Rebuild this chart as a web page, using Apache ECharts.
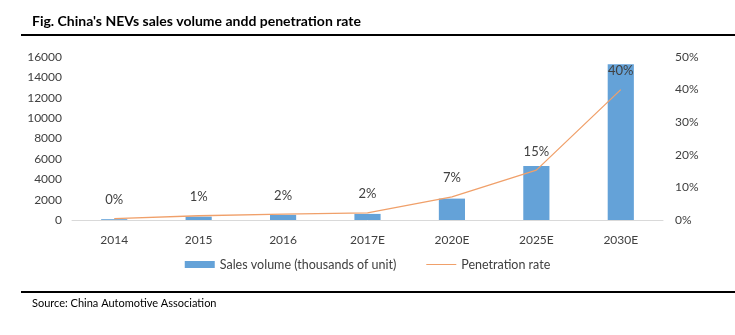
<!DOCTYPE html>
<html><head><meta charset="utf-8">
<script src="https://cdn.jsdelivr.net/npm/echarts@6/dist/echarts.min.js"></script>
<style>html,body{margin:0;padding:0;background:#fff}#c{width:735px;height:335px}</style>
</head><body><div id="c"></div>
<script>
var categories = ['2014','2015','2016','2017E','2020E','2025E','2030E'];
var salesVolume = [80, 331, 507, 600, 2100, 5300, 15300];
var penetration = [0.004, 0.013, 0.018, 0.022, 0.071, 0.153, 0.40];
var leftTicks = [0, 16000, 2000];
var rightTicks = [0, 0.5, 0.1];
var FONT = 'Lato';
var chart = echarts.init(document.getElementById('c'));
chart.setOption({
  backgroundColor: '#fff',
  animation: false,
  textStyle: {fontFamily: FONT},
  graphic: [
    {type:'text', left:32, top:14, style:{text:"Fig. China's NEVs sales volume andd penetration rate", font:'bold 14px '+FONT, fill:'#000'}},
    {type:'rect', shape:{x:21,y:34,width:714,height:2}, style:{fill:'#000'}},
    {type:'rect', shape:{x:21,y:291,width:714,height:2}, style:{fill:'#000'}},
    {type:'text', left:32, top:298, style:{text:'Source: China Automotive Association', font:'11px '+FONT, fill:'#000'}}
  ],
  grid: {left:72, right:72, top:57, bottom:115, containLabel:false},
  legend: {
    bottom: 59, left: 'center', itemGap: 30, itemWidth: 30, itemHeight: 7,
    textStyle: {fontSize: 12.5, color:'#404040', fontFamily: FONT},
    data: [
      {name:'Sales volume (thousands of unit)', icon:'rect'},
      {name:'Penetration rate', icon:'path://M0,0 L30,0 L30,1 L0,1 Z', itemStyle:{color:'#f0a06a'}}
    ]
  },
  xAxis: {
    type:'category', data: categories,
    axisLine:{lineStyle:{color:'#d9d9d9'}},
    axisTick:{show:false},
    axisLabel:{color:'#404040', fontSize:12, margin:14}
  },
  yAxis: [
    {type:'value', min:leftTicks[0], max:leftTicks[1], interval:leftTicks[2],
     splitLine:{show:false}, axisLine:{show:false}, axisTick:{show:false},
     axisLabel:{color:'#404040', fontSize:12, margin:10, formatter:function(v){return String(v);}}},
    {type:'value', min:rightTicks[0], max:rightTicks[1], interval:rightTicks[2],
     splitLine:{show:false}, axisLine:{show:false}, axisTick:{show:false},
     axisLabel:{color:'#404040', fontSize:12, margin:12, formatter:function(v){return Math.round(v*100)+'%';}}}
  ],
  series: [
    {name:'Sales volume (thousands of unit)', type:'bar', data: salesVolume, barWidth:'31%',
     itemStyle:{color:'#64a2d8'}},
    {name:'Penetration rate', type:'line', yAxisIndex:1, data: penetration,
     showSymbol:true, symbol:'circle', symbolSize:0.1, lineStyle:{color:'#f0a06a', width:1.3}, itemStyle:{color:'#f0a06a'},
     label:{show:true, position:'top', distance:12, color:'#404040', fontSize:13, fontFamily:FONT,
       formatter:function(p){return Math.round(p.value*100)+'%';}}}
  ]
});
</script></body></html>
